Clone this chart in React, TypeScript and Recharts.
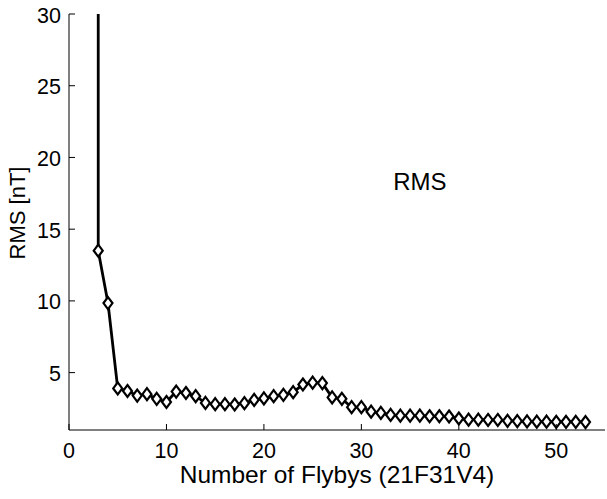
import React from 'react';
import { LineChart, Line, XAxis, YAxis, Label, ReferenceDot } from 'recharts';

// flyby count and RMS residual [nT]; the first flyby count sits far above the plotted range
const flybys = [3, 3, 4, 5, 6, 7, 8, 9, 10, 11, 12, 13, 14, 15, 16, 17, 18, 19, 20, 21, 22, 23, 24, 25, 26, 27, 28,
  29, 30, 31, 32, 33, 34, 35, 36, 37, 38, 39, 40, 41, 42, 43, 44, 45, 46, 47, 48, 49, 50, 51, 52, 53];
const rms = [60, 13.5, 9.85, 3.9, 3.72, 3.4, 3.5, 3.17, 2.95, 3.68, 3.58, 3.36, 2.89, 2.8, 2.8, 2.78, 2.87, 3.1,
  3.2, 3.36, 3.45, 3.64, 4.17, 4.3, 4.27, 3.27, 3.17, 2.59, 2.59, 2.28, 2.19, 2.05, 2.0, 2.0, 2.0, 1.96, 1.96,
  1.94, 1.8, 1.72, 1.72, 1.7, 1.7, 1.64, 1.62, 1.6, 1.58, 1.58, 1.57, 1.57, 1.57, 1.55];

const xTicks = [0, 10, 20, 30, 40, 50];
const yTicks = [5, 10, 15, 20, 25, 30];

const data = flybys.map((n, i) => ({ n, rms: rms[i] }));

const FONT = '"Liberation Sans", Arial, Helvetica, sans-serif';
const TICK_LEN = 6;
const TICK_FONT = 21.5;

const BottomTick = (p: any) => (
  <g>
    <line x1={p.x} x2={p.x} y1={p.y - 8} y2={p.y - 8 - TICK_LEN} stroke="#000" strokeWidth={1} />
    <text x={p.x} y={p.y + 20} textAnchor="middle" fontSize={TICK_FONT} fontFamily={FONT} fill="#000">
      {p.payload.value}
    </text>
  </g>
);

const LeftTick = (p: any) => (
  <g>
    <line x1={p.x + 7} x2={p.x + 7 + TICK_LEN} y1={p.y} y2={p.y} stroke="#000" strokeWidth={1} />
    <text x={p.x - 1} y={p.y + 8.5} textAnchor="end" fontSize={TICK_FONT} fontFamily={FONT} fill="#000">
      {p.payload.value}
    </text>
  </g>
);

const TopTick = (p: any) => (
  <line x1={p.x} x2={p.x} y1={p.y} y2={p.y + TICK_LEN} stroke="#000" strokeWidth={1} />
);

const RightTick = (p: any) => (
  <line x1={p.x} x2={p.x - TICK_LEN} y1={p.y} y2={p.y} stroke="#000" strokeWidth={1} />
);

// rotated y-axis title, sitting a little above the axis middle
const YTitle = (p: any) => {
  const vb = p.viewBox || {};
  const x = vb.x + 17;
  const y = vb.y + vb.height / 2 - 9;
  return (
    <text
      x={x}
      y={y}
      transform={`rotate(-90 ${x} ${y})`}
      textAnchor="middle"
      dominantBaseline="central"
      fontSize={22}
      fontFamily={FONT}
      fill="#000"
    >
      RMS [nT]
    </text>
  );
};

// open diamond marker
const Diamond = (p: any) => {
  const { cx, cy, value } = p;
  if (cx == null || cy == null || value > 30) return <g key={p.key} />;
  const w = 4.5;
  const h = 6;
  return (
    <polygon
      key={p.key}
      points={`${cx},${cy - h} ${cx + w},${cy} ${cx},${cy + h} ${cx - w},${cy}`}
      fill="#fff"
      stroke="#000"
      strokeWidth={2.2}
    />
  );
};

export default function App() {
  return (
    <div style={{ position: 'absolute', left: 0, top: 0, background: '#fff' }}>
      <LineChart width={607} height={499} data={data} margin={{ top: 14, right: 2, bottom: 0, left: 0 }}>
        <XAxis
          dataKey="n"
          type="number"
          domain={[0, 55]}
          ticks={xTicks}
          height={69}
          tickSize={0}
          tickMargin={8}
          tick={BottomTick}
          axisLine={{ stroke: '#000' }}
          allowDataOverflow
        >
          <Label value="Number of Flybys (21F31V4)" position="insideBottom" offset={16} fontSize={24.5} fontFamily={FONT} fill="#000" />
        </XAxis>
        <XAxis
          xAxisId="top"
          orientation="top"
          type="number"
          domain={[0, 55]}
          ticks={xTicks}
          height={0}
          tickSize={0}
          tickMargin={0}
          tick={TopTick}
          axisLine={{ stroke: '#000' }}
        />
        <YAxis
          type="number"
          domain={[1, 30]}
          ticks={yTicks}
          width={69}
          tickSize={0}
          tickMargin={7}
          tick={LeftTick}
          axisLine={{ stroke: '#000' }}
          allowDataOverflow
        >
          <Label content={YTitle} />
        </YAxis>
        <YAxis
          yAxisId="right"
          orientation="right"
          type="number"
          domain={[1, 30]}
          ticks={yTicks}
          width={0}
          tickSize={0}
          tickMargin={0}
          tick={RightTick}
          axisLine={{ stroke: '#000' }}
        />
        <ReferenceDot x={36} y={18.3} r={0} stroke="none" fill="none">
          <Label value="RMS" position="center" fontSize={24} fontFamily={FONT} fill="#000" />
        </ReferenceDot>
        <Line
          type="linear"
          dataKey="rms"
          stroke="#000"
          strokeWidth={2.8}
          dot={Diamond}
          activeDot={false}
          isAnimationActive={false}
        />
      </LineChart>
    </div>
  );
}
